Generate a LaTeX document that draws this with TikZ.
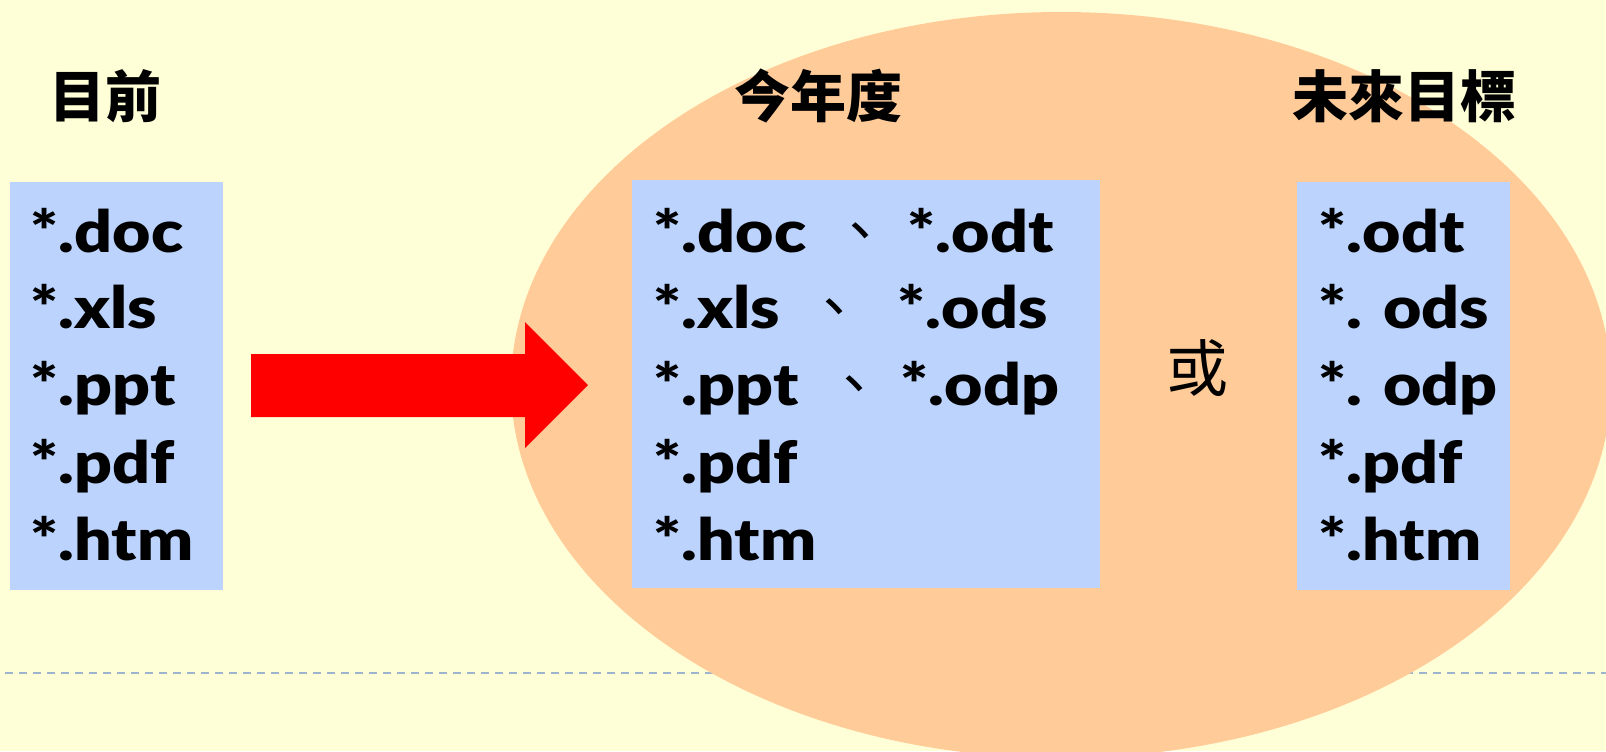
\documentclass[tikz,border=0pt]{standalone}
\usepackage{fontspec}
\usepackage{xcolor}
\setmainfont{Lato}
\newfontfamily\extfont{Lato Black}[FakeStretch=1.14]
\newfontfamily\cjk{Noto Sans CJK TC}
\definecolor{bgyellow}{RGB}{255,255,215}
\definecolor{ovalorange}{RGB}{255,204,153}
\definecolor{boxblue}{RGB}{187,211,253}
\definecolor{dashblue}{RGB}{158,180,204}
\tikzset{every picture/.style={line width=0.75pt}}
\tikzset{
  extlabel/.style={anchor=base west, inner sep=0pt, font=\extfont\fontsize{29}{30}\selectfont},
  headlabel/.style={inner sep=0pt, font=\cjk\bfseries\fontsize{28}{30}\selectfont}
}

\begin{document}
\begin{tikzpicture}[x=0.5pt,y=0.5pt,yscale=-1,xscale=1]
\useasboundingbox (0,0) rectangle (1606,751);
\clip (0,0) rectangle (1606,751);

%Shape: Background
\fill [bgyellow] (0,0) rectangle (1606,751) ;
%Straight Lines: dashed rule
\draw [dashblue, line width=1pt, dash pattern=on 4pt off 3pt] (5,673) -- (1606,673) ;
%Shape: Ellipse
\fill [ovalorange] (1061,385) ellipse [x radius=550, y radius=373] ;
%Shape: Rectangle
\fill [boxblue] (10,182) rectangle (223,590) ;
%Shape: Rectangle
\fill [boxblue] (632,180) rectangle (1100,588) ;
%Shape: Rectangle
\fill [boxblue] (1297,182) rectangle (1510,590) ;
%Shape: Right Arrow
\fill [red] (251,354) -- (525,354) -- (525,322) -- (588,385) -- (525,448) -- (525,417) -- (251,417) -- cycle ;

% Text Node
\node [headlabel] (nowtitle) at (105,96) {目前};
% Text Node
\node [headlabel] (yeartitle) at (818,96) {今年度};
% Text Node
\node [headlabel] (goaltitle) at (1404,96) {未來目標};
% Text Node
\node [inner sep=0pt, font=\cjk\fontsize{31}{31}\selectfont] (ortext) at (1197,368) {或};

% Text Node
\node [extlabel] (now1) at (30,252) {*.doc};
\node [extlabel] (now2) at (30,328) {*.xls};
\node [extlabel] (now3) at (30,405) {*.ppt};
\node [extlabel] (now4) at (30,483) {*.pdf};
\node [extlabel] (now5) at (30,560) {*.htm};

% Text Node
\node [extlabel] (year1) at (653,252) {\makebox[89pt][l]{*.doc}\makebox[38pt][l]{\cjk 、}*.odt};
\node [extlabel] (year2) at (653,328) {\makebox[76pt][l]{*.xls}\makebox[46pt][l]{\cjk 、}*.ods};
\node [extlabel] (year3) at (653,405) {\makebox[86pt][l]{*.ppt}\makebox[37.5pt][l]{\cjk 、}*.odp};
\node [extlabel] (year4) at (653,483) {*.pdf};
\node [extlabel] (year5) at (653,560) {*.htm};

% Text Node
\node [extlabel] (goal1) at (1318,252) {*.odt};
\node [extlabel] (goal2) at (1318,328) {*. ods};
\node [extlabel] (goal3) at (1318,405) {*. odp};
\node [extlabel] (goal4) at (1318,483) {*.pdf};
\node [extlabel] (goal5) at (1318,560) {*.htm};

\end{tikzpicture}
\end{document}
